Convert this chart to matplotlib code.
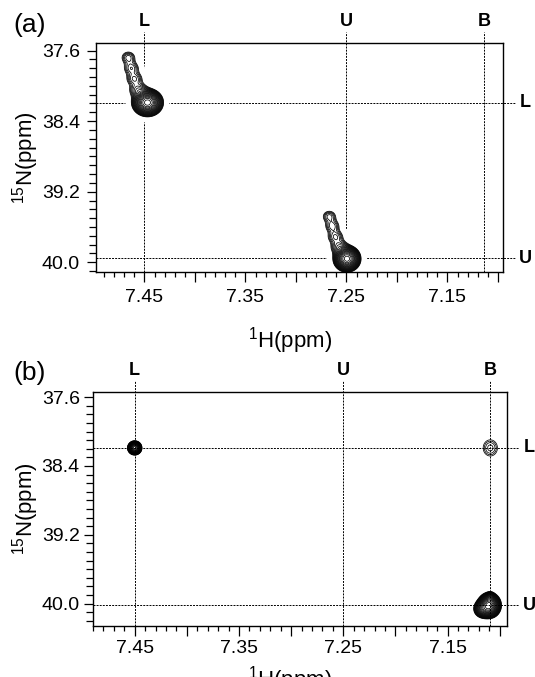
import numpy as np
import matplotlib.pyplot as plt
from matplotlib.ticker import MultipleLocator, FuncFormatter, FormatStrFormatter

plt.rcParams['font.family'] = ['Liberation Sans', 'DejaVu Sans']
plt.rcParams['mathtext.fontset'] = 'custom'
plt.rcParams['mathtext.rm'] = 'Liberation Sans'
plt.rcParams['mathtext.it'] = 'Liberation Sans:italic'

# reference positions (1H / 15N ppm) of the dotted guide lines
a_vlines = [7.450, 7.250, 7.114]
a_vlabels = ['L', 'U', 'B']
a_hlines = [38.19, 39.955]
a_hlabels = ['L', 'U']

b_vlines = [7.450, 7.250, 7.109]
b_vlabels = ['L', 'U', 'B']
b_hlines = [38.19, 40.02]
b_hlabels = ['L', 'U']

# panel (a) cross peaks: centre, line widths, heights
a_h = [7.447, 7.456, 7.460, 7.463, 7.466, 7.2495, 7.257, 7.261, 7.264, 7.267]
a_n = [38.19, 38.05, 37.92, 37.80, 37.68, 39.96, 39.83, 39.71, 39.59, 39.48]
a_wh = [0.0057, 0.0055, 0.0050, 0.0048, 0.0045, 0.0050, 0.0052, 0.0048, 0.0046, 0.0044]
a_wn = [0.058, 0.052, 0.048, 0.048, 0.046, 0.055, 0.050, 0.047, 0.047, 0.044]
a_amp = [1.0, 0.065, 0.055, 0.052, 0.050, 1.0, 0.065, 0.055, 0.050, 0.048]

# panel (b) cross peaks
b_h = [7.450, 7.109, 7.110, 7.116, 7.109]
b_n = [38.19, 38.19, 40.02, 40.06, 39.93]
b_wh = [0.0025, 0.0058, 0.0042, 0.0038, 0.0020]
b_wn = [0.030, 0.080, 0.055, 0.045, 0.030]
b_amp = [1.0, 0.040, 1.0, 0.30, 0.12]

levels = 0.02 * 1.22 ** np.arange(20)

H, N = np.meshgrid(np.linspace(7.08, 7.51, 800), np.linspace(37.45, 40.35, 800))


def spectrum(hs, ns, whs, wns, amps):
    z = np.zeros_like(H)
    for h, n, wh, wn, a in zip(hs, ns, whs, wns, amps):
        z += a * np.exp(-0.5 * ((H - h) / wh) ** 2 - 0.5 * ((N - n) / wn) ** 2)
    return z


def panel(ax, z, xlim, ylim, vlines, vlabels, hlines, hlabels, halo, xpad, ypad):
    ax.set_xlim(xlim)
    ax.set_ylim(ylim)
    bb = ax.get_position()
    ax_h = bb.height * 677
    ax_w = bb.width * 535

    if halo:
        ax.contourf(H, N, z, levels=[0.012, 10], colors='white', zorder=2)
        ax.contour(H, N, z, levels=[0.012], colors='white', linewidths=7, zorder=2)
    ax.contour(H, N, z, levels=levels, colors='black', linewidths=0.55, zorder=3)

    for x, lab in zip(vlines, vlabels):
        ax.plot([x, x], [0, 1 + 11 / ax_h], transform=ax.get_xaxis_transform(),
                color='black', lw=0.7, ls=(0, (2, 1.2)), clip_on=False, zorder=1)
        ax.annotate(lab, xy=(x, 1), xycoords=('data', 'axes fraction'),
                    xytext=(0, 15.5), textcoords='offset points',
                    ha='center', va='center', fontsize=13, fontweight='bold')
    for y, lab in zip(hlines, hlabels):
        ax.plot([0, 1 + 12 / ax_w], [y, y], transform=ax.get_yaxis_transform(),
                color='black', lw=0.7, ls=(0, (2, 1.2)), clip_on=False, zorder=1)
        ax.annotate(lab, xy=(1, y), xycoords=('axes fraction', 'data'),
                    xytext=(16, 0), textcoords='offset points',
                    ha='center', va='center', fontsize=13, fontweight='bold')

    ax.xaxis.set_major_locator(MultipleLocator(0.05))
    ax.xaxis.set_minor_locator(MultipleLocator(0.01))
    ax.xaxis.set_major_formatter(FuncFormatter(
        lambda v, p: f'{v:.2f}' if round(v * 100) % 10 == 5 else ''))
    ax.yaxis.set_major_locator(MultipleLocator(0.8))
    ax.yaxis.set_minor_locator(MultipleLocator(0.1))
    ax.yaxis.set_major_formatter(FormatStrFormatter('%.1f'))
    ax.tick_params(axis='both', which='both', direction='out', labelsize=14, width=0.9)
    ax.tick_params(axis='x', which='major', length=7, pad=xpad)
    ax.tick_params(axis='x', which='minor', length=3.5)
    ax.tick_params(axis='y', which='major', length=6.5, pad=ypad)
    ax.tick_params(axis='y', which='minor', length=5)
    for s in ax.spines.values():
        s.set_linewidth(1.0)

    ax.set_xlabel(r'$^{1}$H(ppm)', fontsize=16)
    ax.set_ylabel(r'$^{15}$N(ppm)', fontsize=16, va='center')


fig = plt.figure(figsize=(5.35, 6.77), dpi=100)
ax_a = fig.add_axes([96 / 535, 1 - 272 / 677, 407 / 535, 229 / 677])
ax_b = fig.add_axes([93 / 535, 1 - 626 / 677, 414 / 535, 234 / 677])

panel(ax_a, spectrum(a_h, a_n, a_wh, a_wn, a_amp), (7.498, 7.095), (40.11, 37.515),
      a_vlines, a_vlabels, a_hlines, a_hlabels, True, 5, 5)
ax_a.xaxis.set_label_coords((290 - 96) / 407, -53 / 229)
ax_a.yaxis.set_label_coords((26 - 96) / 407, 0.5)

panel(ax_b, spectrum(b_h, b_n, b_wh, b_wn, b_amp), (7.49, 7.093), (40.26, 37.54),
      b_vlines, b_vlabels, b_hlines, b_hlabels, False, 3, 3)
ax_b.xaxis.set_label_coords((290 - 93) / 414, -38 / 234)
ax_b.yaxis.set_label_coords((26 - 93) / 414, 0.5)

fig.text(13 / 535, 1 - 25 / 677, '(a)', fontsize=19, ha='left', va='center')
fig.text(13 / 535, 1 - 373 / 677, '(b)', fontsize=19, ha='left', va='center')

fig.savefig('out.png', dpi=100)
